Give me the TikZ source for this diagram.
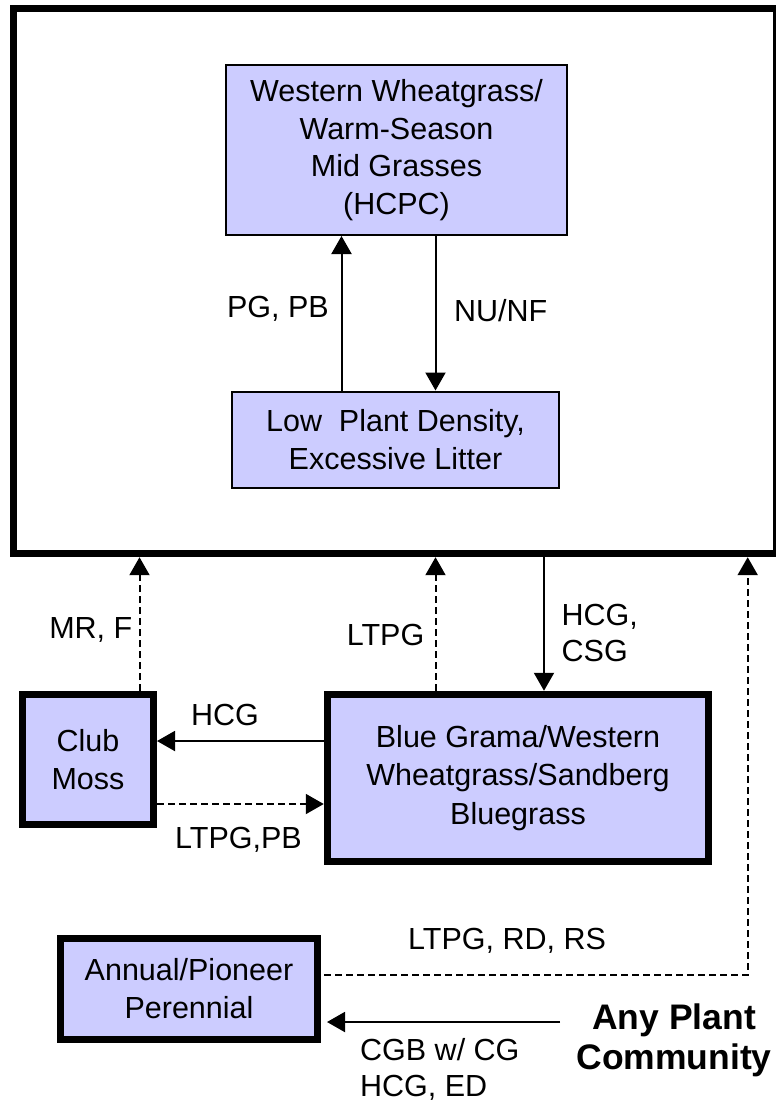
\documentclass[tikz,border=0pt]{standalone}
\usepackage{fontspec}
\setmainfont{Liberation Sans}
\usetikzlibrary{arrows.meta}

\begin{document}
\begin{tikzpicture}[x=1pt, y=-1pt,
    thinbox/.style={draw=black, line width=2pt, fill=boxColour, align=center, font=\fontsize{30.5}{37.5}\selectfont},
    thickbox/.style={draw=black, line width=7pt, fill=boxColour, align=center, font=\fontsize{30.5}{38.5}\selectfont},
    lbl/.style={inner sep=0pt, font=\fontsize{30.5}{36}\selectfont},
    solidarrow/.style={line width=2pt, -{Triangle[length=18pt, width=20pt]}},
    dasharrow/.style={line width=2pt, dash pattern=on 7pt off 4pt, -{Triangle[length=18pt, width=20pt]}}]
    \definecolor{boxColour}{HTML}{CCCCFF}

    \useasboundingbox (0,0) rectangle (776,1104);

    % Draw the frame round the reference state
    \node[draw=black, line width=7pt, minimum width=763pt, minimum height=545.7pt, inner sep=0pt] (frame) at (395,280.85) {};

    % Draw the states inside the frame
    \node[thinbox, minimum width=341pt, minimum height=170pt] (hcpc) at (396.5,150)
        {Western Wheatgrass/\\Warm-Season\\Mid Grasses\\(HCPC)};
    \node[thinbox, minimum width=327pt, minimum height=96pt] (density) at (395.5,439.5)
        {Low\ \ Plant Density,\\Excessive Litter};

    % Draw the states below the frame
    \node[thickbox, minimum width=131pt, minimum height=130pt, inner sep=0pt] (club) at (88,759.5) {Club\\Moss};
    \node[thickbox, minimum width=381.5pt, minimum height=167.5pt, inner sep=0pt] (grama) at (518,778)
        {Blue Grama/Western\\Wheatgrass/Sandberg\\Bluegrass};
    \node[thickbox, minimum width=257pt, minimum height=100.5pt, inner sep=0pt] (annual) at (189,988.8)
        {Annual/Pioneer\\Perennial};
    \node[inner sep=16pt, align=center, font=\fontsize{35.5}{40}\selectfont\bfseries] (any) at (674,1040)
        {Any Plant\\Community};

    % Transitions inside the frame
    \draw[solidarrow] ([xshift=-54pt]density.north) -- ([xshift=-54pt]density.north |- hcpc.south);
    \draw[solidarrow] ([xshift=39pt]hcpc.south) -- ([xshift=39pt]hcpc.south |- density.north);
    \node[lbl, anchor=east] (pgpb) at (329,309) {PG, PB};
    \node[lbl, anchor=west] (nunf) at (454,311) {NU/NF};

    % Transitions between frame and lower states
    \draw[dasharrow] ([xshift=51.5pt]club.north) -- ([xshift=51.5pt]club.north |- frame.south);
    \draw[dasharrow] ([xshift=-82.5pt]grama.north) -- ([xshift=-82.5pt]grama.north |- frame.south);
    \draw[solidarrow] ([xshift=26pt]grama.north |- frame.south) -- ([xshift=26pt]grama.north);
    \draw[dasharrow, shorten <=3pt] ([yshift=14pt]annual.east) -| ([xshift=352.7pt]frame.south);
    \node[lbl, anchor=east] (mrf) at (132.5,630) {MR, F};
    \node[lbl, anchor=east] (ltpgup) at (424.5,635) {LTPG};
    \node[lbl, anchor=west, align=left] (hcgcsg) at (561.5,633) {HCG,\\CSG};
    \node[lbl, anchor=west] (ltpgrdrs) at (408,941) {LTPG, RD, RS};

    % Transitions between lower states
    \draw[solidarrow] ([yshift=37pt]grama.west) -- ([yshift=37pt]grama.west -| club.east);
    \draw[dasharrow] ([yshift=-26pt]grama.west -| club.east) -- ([yshift=-26pt]grama.west);
    \draw[solidarrow, shorten >=6pt] ([yshift=18pt]any.west) -- ([yshift=18pt]any.west -| annual.east);
    \node[lbl] (hcgleft) at (225,714.5) {HCG};
    \node[lbl] (ltpgpb) at (238.5,840) {LTPG,PB};
    \node[lbl, anchor=west, align=left] (cgb) at (360,1069) {CGB w/ CG\\HCG, ED};

\end{tikzpicture}
\end{document}
